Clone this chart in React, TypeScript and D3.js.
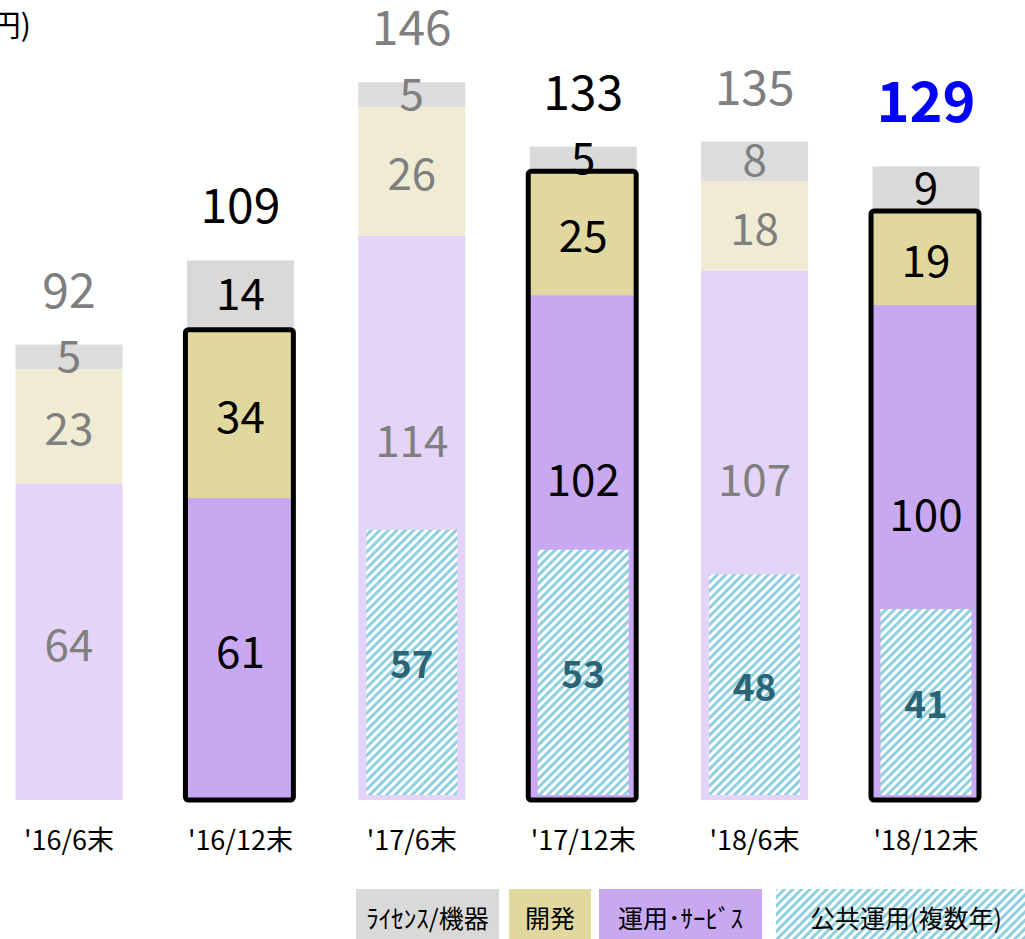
import * as d3 from "d3";

// 単位: 億円
const categories = ["'16/6末", "'16/12末", "'17/6末", "'17/12末", "'18/6末", "'18/12末"];
const licenseVals = [5, 14, 5, 5, 8, 9];
const devVals = [23, 34, 26, 25, 18, 19];
const opsVals = [64, 61, 114, 102, 107, 100];
const publicVals = [null, null, 57, 53, 48, 41];
const totals = [92, 109, 146, 133, 135, 129];
const highlighted = [false, true, false, true, false, true];

const legendItems = ["ﾗｲｾﾝｽ/機器", "開発", "運用･ｻｰﾋﾞｽ", "公共運用(複数年)"];

const W = 1025;
const H = 939;
const FONT = "'Noto Sans CJK JP', 'Noto Sans', sans-serif";

const colors = {
  license: { on: "#d9d9d9", off: "#dcdcdc" },
  dev: { on: "#e0d89f", off: "#efecd3" },
  ops: { on: "#c8a9f1", off: "#e3d4f8" },
};
const hatchColor = "#8fd0de";

export default function App() {
  const x = d3
    .scaleBand<string>()
    .domain(categories)
    .range([-16.7, 1011.7])
    .paddingInner(0.376)
    .paddingOuter(0.188);
  const y = d3.scaleLinear().domain([0, 160]).range([800, 8]);
  const bw = x.bandwidth();

  // legend layout
  const legendX = d3.scaleOrdinal<string, number>().domain(legendItems).range([356, 509, 599, 776]);
  const legendW = d3.scaleOrdinal<string, number>().domain(legendItems).range([143, 82, 163, 260]);

  return (
    <svg
      width={W}
      height={H}
      style={{ position: "absolute", left: 0, top: 0, display: "block", overflow: "hidden" }}
      fontFamily={FONT}
    >
      <defs>
        <pattern
          id="hatch"
          patternUnits="userSpaceOnUse"
          width={6}
          height={6}
          patternTransform="rotate(45)"
        >
          <rect width={6} height={6} fill="#fff" />
          <rect width={3} height={6} fill={hatchColor} />
        </pattern>
      </defs>
      <rect width={W} height={H} fill="#fff" />

      <text x={31} y={36} fontSize={30} textAnchor="end" fill="#000">
        (億円)
      </text>

      {categories.map((c, i) => {
        const x0 = x(c)!;
        const cx = x0 + bw / 2;
        const on = highlighted[i];
        const ops = opsVals[i];
        const dev = devVals[i];
        const lic = licenseVals[i];
        const segs = [
          { key: "ops", lo: 0, hi: ops, fill: on ? colors.ops.on : colors.ops.off },
          { key: "dev", lo: ops, hi: ops + dev, fill: on ? colors.dev.on : colors.dev.off },
          { key: "lic", lo: ops + dev, hi: ops + dev + lic, fill: on ? colors.license.on : colors.license.off },
        ];
        const vals = [ops, dev, lic];
        const txtColor = on ? "#000" : "#7f7f7f";
        const pub = publicVals[i];
        const hatchTop = pub != null ? y(pub) + 12 : 0;
        const top = y(ops + dev + lic);
        const isLast = i === categories.length - 1;
        return (
          <g key={c}>
            {segs.map((s) => (
              <rect key={s.key} x={x0} y={y(s.hi)} width={bw} height={y(s.lo) - y(s.hi)} fill={s.fill} />
            ))}
            {pub != null && (
              <rect
                x={x0 + 8}
                y={hatchTop}
                width={bw - 16}
                height={y(0) - 5 - hatchTop}
                fill="url(#hatch)"
              />
            )}
            {on && (
              <rect
                x={x0 - 1.5}
                y={y(ops + dev)}
                width={bw + 1}
                height={y(0) - y(ops + dev)}
                fill="none"
                stroke="#000"
                strokeWidth={5}
                rx={3}
              />
            )}
            {segs.map((s, k) => {
              // 公共運用がある棒は、運用ラベルを斜線の少し上に寄せる
              const cy =
                pub != null && k === 0
                  ? (y(ops) + hatchTop) / 2 + 55
                  : (y(s.lo) + y(s.hi)) / 2 - (k === 2 ? 4 : 0);
              return (
                <text
                  key={s.key}
                  x={cx}
                  y={cy}
                  textAnchor="middle"
                  dominantBaseline="central"
                  fontSize={44}
                  fill={txtColor}
                >
                  {vals[k]}
                </text>
              );
            })}
            {pub != null && (
              <text
                x={cx}
                y={(hatchTop + y(0) - 5) / 2}
                textAnchor="middle"
                dominantBaseline="central"
                fontSize={37}
                fontWeight="bold"
                fill="#2b6475"
              >
                {pub}
              </text>
            )}
            <text
              x={cx}
              y={isLast ? top - 44 : top - 37}
              textAnchor="middle"
              fontSize={isLast ? 56 : 48}
              fontWeight={isLast ? "bold" : "normal"}
              fill={isLast ? "#0000ff" : txtColor}
            >
              {totals[i]}
            </text>
            <text x={cx} y={850} textAnchor="middle" fontSize={27} fill="#000">
              {c}
            </text>
          </g>
        );
      })}

      {legendItems.map((l, k) => {
        const lx = legendX(l);
        const lw = legendW(l);
        const fill = k === 0 ? colors.license.on : k === 1 ? colors.dev.on : k === 2 ? colors.ops.on : "url(#hatch)";
        return (
          <g key={l}>
            <rect x={lx} y={889} width={lw} height={60} fill={fill} />
            <text
              x={lx + lw / 2}
              y={917}
              textAnchor="middle"
              dominantBaseline="central"
              fontSize={25}
              fill="#000"
            >
              {l}
            </text>
          </g>
        );
      })}
    </svg>
  );
}
